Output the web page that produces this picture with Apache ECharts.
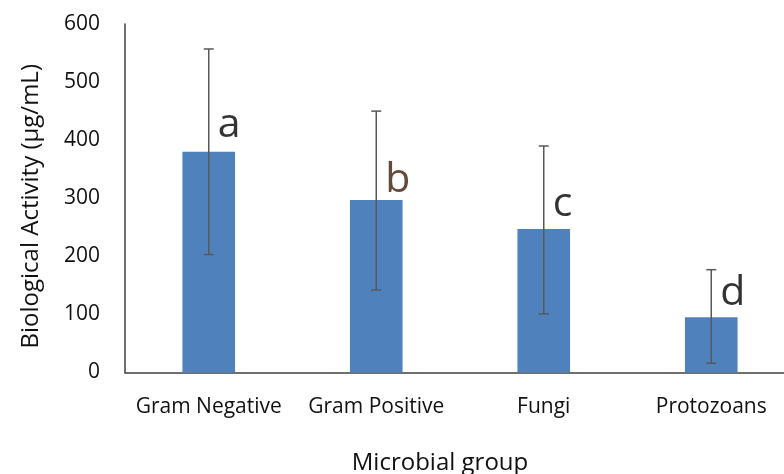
<!DOCTYPE html>
<html>
<head>
<meta charset="utf-8">
<script src="https://cdn.jsdelivr.net/npm/echarts@6/dist/echarts.min.js"></script>
<style>
html,body{margin:0;padding:0;background:#fff;}
#chart{width:784px;height:474px;}
</style>
</head>
<body>
<div id="chart"></div>
<script>
var categories = ['Gram Negative', 'Gram Positive', 'Fungi', 'Protozoans'];
var means = [380, 297, 247, 95];
var errLow = [203, 142, 101, 16];
var errHigh = [557, 450, 390, 177];
var letters = ['a', 'b', 'c', 'd'];
var letterY = [426, 330, 289, 137];
var letterColors = ['#000000', '#3f1c05', '#000000', '#000000'];
var yTicks = [0, 100, 200, 300, 400, 500, 600];

var chart = echarts.init(document.getElementById('chart'));
var font = 'Open Sans';

var errData = categories.map(function (c, i) { return [i, errLow[i], errHigh[i]]; });
var letterData = categories.map(function (c, i) {
  return {
    value: [i, letterY[i]],
    label: { formatter: letters[i], color: letterColors[i] }
  };
});

chart.setOption({
  animation: false,
  grid: { left: 125, right: -11, top: 24, bottom: 101.5, containLabel: false, outerBoundsMode: 'none' },
  xAxis: {
    type: 'category',
    data: categories,
    name: 'Microbial group',
    nameLocation: 'middle',
    nameGap: 79,
    nameTextStyle: { fontFamily: font, fontSize: 24, color: '#111', padding: [0, 40, 0, 0] },
    axisLine: { lineStyle: { color: '#404040', width: 1.5 } },
    axisTick: { show: false },
    axisLabel: { fontFamily: font, fontSize: 21, color: '#111', margin: 24, interval: 0 }
  },
  yAxis: {
    type: 'value',
    min: yTicks[0],
    max: yTicks[yTicks.length - 1],
    interval: 100,
    name: 'Biological Activity (µg/mL)',
    nameLocation: 'middle',
    nameGap: 82,
    nameTextStyle: { fontFamily: font, fontSize: 24, color: '#111', padding: [0, 16, 0, 0] },
    axisLine: { show: true, lineStyle: { color: '#404040', width: 1.5 } },
    axisTick: { show: false },
    splitLine: { show: false },
    axisLabel: { fontFamily: font, fontSize: 21, color: '#111', margin: 25 }
  },
  series: [
    {
      type: 'bar',
      data: means,
      barWidth: '31.4%',
      itemStyle: { color: '#4f81bd' }
    },
    {
      type: 'custom',
      data: errData,
      z: 5,
      renderItem: function (params, api) {
        var x = api.value(0);
        var lo = api.coord([x, api.value(1)]);
        var hi = api.coord([x, api.value(2)]);
        var hw = 5;
        var style = { stroke: '#595959', lineWidth: 1.5 };
        return {
          type: 'group',
          children: [
            { type: 'line', shape: { x1: lo[0], y1: lo[1], x2: hi[0], y2: hi[1] }, style: style },
            { type: 'line', shape: { x1: lo[0] - hw, y1: lo[1], x2: lo[0] + hw, y2: lo[1] }, style: style },
            { type: 'line', shape: { x1: hi[0] - hw, y1: hi[1], x2: hi[0] + hw, y2: hi[1] }, style: style }
          ]
        };
      }
    },
    {
      type: 'scatter',
      data: letterData,
      symbolSize: 0,
      z: 6,
      label: {
        show: true,
        position: 'right',
        distance: 9,
        fontFamily: font,
        fontSize: 41
      }
    }
  ]
});
</script>
</body>
</html>
